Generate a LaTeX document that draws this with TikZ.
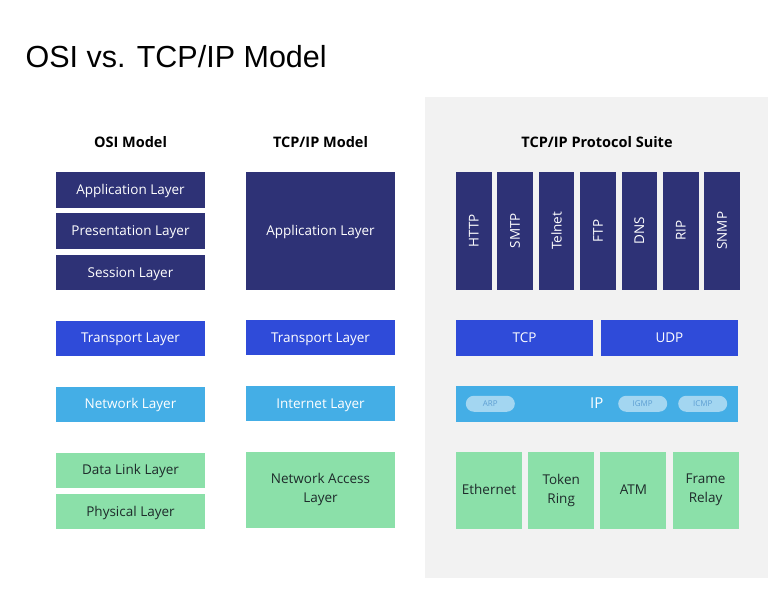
\documentclass[tikz,border=0pt]{standalone}
\usepackage{fontspec}
\setmainfont{Open Sans}
\newfontfamily\titlefont{Liberation Sans}
\usepackage{tikz}
\usetikzlibrary{positioning}

\definecolor{appnavy}{HTML}{2E3276}
\definecolor{transblue}{HTML}{2F4BD9}
\definecolor{netblue}{HTML}{44AEE6}
\definecolor{linkgreen}{HTML}{8BE0A9}
\definecolor{suitegray}{HTML}{F2F2F2}
\definecolor{pillfill}{HTML}{A3D6F1}
\definecolor{pilltext}{HTML}{5E9FD3}
\definecolor{darktext}{HTML}{1E2B2B}

\begin{document}
\begin{tikzpicture}[
    x=1pt, y=-1pt,
    node distance=5.5pt,
    layer/.style={inner sep=0pt, minimum width=149pt, minimum height=35.5pt, align=center, text height=10pt, text depth=1pt, font=\fontsize{13.5}{19}\selectfont},
    applayer/.style={layer, fill=appnavy, text=white},
    translayer/.style={layer, fill=transblue, text=white},
    netlayer/.style={layer, fill=netblue, text=white},
    linklayer/.style={layer, fill=linkgreen, text=darktext},
    twoline/.style={text height=, text depth=},
    proto/.style={applayer, minimum width=35.5pt, minimum height=117.5pt, twoline},
    pill/.style={inner sep=0pt, minimum width=49pt, minimum height=16pt, rounded corners=8pt, fill=pillfill, text=pilltext, font=\fontsize{8}{9}\selectfont},
    header/.style={font=\bfseries\fontsize{14.5}{17}\selectfont, text=black}
  ]
    \useasboundingbox (0,0) rectangle (783,589);
    \fill[suitegray] (425,97) rectangle (768,578);

    \node[anchor=west, font=\titlefont\fontsize{30.5}{34}\selectfont] (title) at (22,57) {OSI vs. TCP/IP Model};
    \node[header] (osihead) at (130.5,142) {OSI Model};
    \node[header] (tcphead) at (320.5,142) {TCP/IP Model};
    \node[header] (suitehead) at (597,142) {TCP/IP Protocol Suite};

    % OSI model
    \node[applayer] (osiapp) at (130.5,189.75) {Application Layer};
    \node[applayer, below=of osiapp] (osipres) {Presentation Layer};
    \node[applayer, below=of osipres] (osisess) {Session Layer};
    \node[translayer, below=30pt of osisess] (ositrans) {Transport Layer};
    \node[netlayer, below=30pt of ositrans] (osinet) {Network Layer};
    \node[linklayer, below=30pt of osinet] (osilink) {Data Link Layer};
    \node[linklayer, below=of osilink] (osiphys) {Physical Layer};

    % TCP/IP model
    \node[applayer, minimum height=117.5pt] (tcpapp) at (320.5,230.75) {Application Layer};
    \node[translayer, below=30pt of tcpapp] (tcptrans) {Transport Layer};
    \node[netlayer, below=30pt of tcptrans] (tcpnet) {Internet Layer};
    \node[linklayer, twoline, minimum height=76.5pt, below=30pt of tcpnet] (tcplink) {Network Access\\Layer};

    % protocol suite
    \node[proto] (http) at (473.75,230.75) {\rotatebox{90}{HTTP}};
    \node[proto, right=of http] (smtp) {\rotatebox{90}{SMTP}};
    \node[proto, right=of smtp] (telnet) {\rotatebox{90}{Telnet}};
    \node[proto, right=of telnet] (ftp) {\rotatebox{90}{FTP}};
    \node[proto, right=of ftp] (dns) {\rotatebox{90}{DNS}};
    \node[proto, right=of dns] (rip) {\rotatebox{90}{RIP}};
    \node[proto, right=of rip] (snmp) {\rotatebox{90}{SNMP}};

    \node[translayer, minimum width=137pt] (tcp) at (524.5,337.75) {TCP};
    \node[translayer, minimum width=137pt, right=7.5pt of tcp] (udp) {UDP};

    \node[netlayer, minimum width=281.5pt] (ipbar) at (596.75,403.75) {\fontsize{15}{17}\selectfont IP};
    \node[pill] (arp) at ([xshift=34.5pt]ipbar.west) {ARP};
    \node[pill] (igmp) at ([xshift=-95pt]ipbar.east) {IGMP};
    \node[pill] (icmp) at ([xshift=-35pt]ipbar.east) {ICMP};

    \node[linklayer, minimum width=66pt, minimum height=76.5pt] (ether) at (489,490.25) {Ethernet};
    \node[linklayer, twoline, minimum width=66pt, minimum height=76.5pt, right=5.8pt of ether] (token) {Token\\Ring};
    \node[linklayer, minimum width=66pt, minimum height=76.5pt, right=5.8pt of token] (atm) {ATM};
    \node[linklayer, twoline, minimum width=66pt, minimum height=76.5pt, right=5.8pt of atm] (frame) {Frame\\Relay};
  \end{tikzpicture}
\end{document}
